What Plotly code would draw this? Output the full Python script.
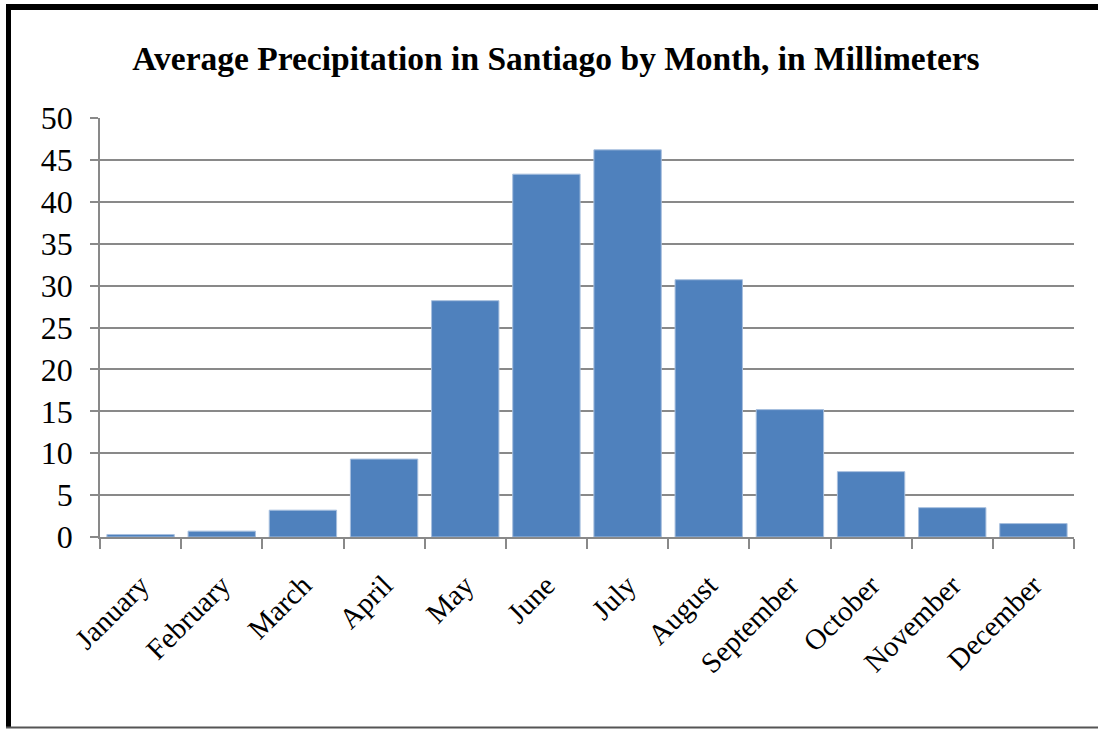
import plotly.graph_objects as go

months = ["January", "February", "March", "April", "May", "June",
          "July", "August", "September", "October", "November", "December"]
precip_mm = [0.3, 0.7, 3.2, 9.3, 28.2, 43.3, 46.2, 30.7, 15.2, 7.8, 3.5, 1.6]
y_ticks = [0, 5, 10, 15, 20, 25, 30, 35, 40, 45, 50]

W, H = 1098, 729
L, R, T, B = 100, 24, 118, 192
pw, ph = W - L - R, H - T - B

def px_x(x):
    return (x - L) / pw

def px_y(y):
    return 1 - (y - T) / ph

serif = "Liberation Serif, Times New Roman, serif"
grid = "#898989"

fig = go.Figure(go.Bar(
    x=months, y=precip_mm,
    marker=dict(color="#4F81BD", line=dict(color="#A7BFDE", width=1)),
))

fig.update_layout(
    width=W, height=H,
    margin=dict(l=L, r=R, t=T, b=B),
    paper_bgcolor="white", plot_bgcolor="white",
    bargap=0.17,
    showlegend=False,
    title=dict(
        text="<b>Average Precipitation in Santiago by Month, in Millimeters</b>",
        font=dict(family=serif, size=33.5, color="black"),
        x=556 / W, xanchor="center", xref="container",
        y=1 - 58 / H, yanchor="middle", yref="container",
    ),
    font=dict(family=serif, color="black"),
)

fig.update_yaxes(
    range=[0, 50], tickvals=y_ticks,
    showgrid=True, gridcolor=grid, gridwidth=1.5,
    showline=True, linecolor=grid, linewidth=1.5,
    ticks="outside", ticklen=8, tickcolor=grid, tickwidth=1.5,
    tickfont=dict(family=serif, size=32, color="black"),
    ticklabelstandoff=11,
    zeroline=False,
)
fig.update_xaxes(
    type="category", tickangle=-45, tickson="boundaries",
    showline=True, linecolor=grid, linewidth=1.5,
    ticks="outside", ticklen=10, tickcolor=grid, tickwidth=1.5,
    tickfont=dict(family=serif, size=29, color="black"),
    ticklabelstandoff=18,
    showgrid=False,
)

# frame around the chart: heavy black on top and left, thin grey at the bottom
fig.add_shape(type="line", xref="paper", yref="paper",
              x0=px_x(8.5), x1=px_x(8.5), y0=px_y(4), y1=px_y(727),
              line=dict(color="black", width=5))
fig.add_shape(type="line", xref="paper", yref="paper",
              x0=px_x(6), x1=px_x(1098), y0=px_y(7), y1=px_y(7),
              line=dict(color="black", width=6))
fig.add_shape(type="line", xref="paper", yref="paper",
              x0=px_x(6), x1=px_x(1098), y0=px_y(727.5), y1=px_y(727.5),
              line=dict(color="#555555", width=2))

fig.write_html("out.html")
